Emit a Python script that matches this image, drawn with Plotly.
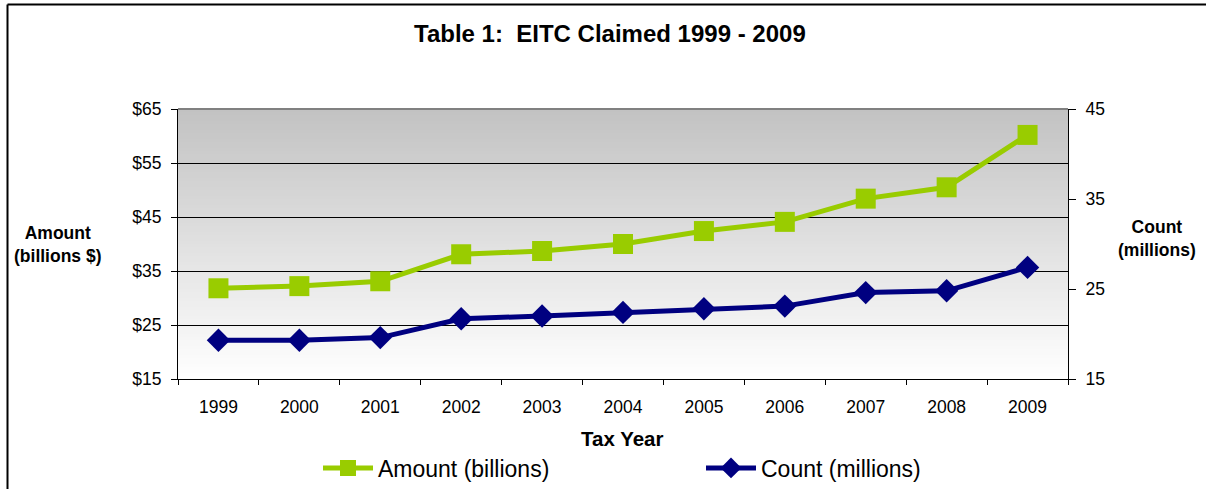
import plotly.graph_objects as go

years = ["1999", "2000", "2001", "2002", "2003", "2004", "2005", "2006", "2007", "2008", "2009"]
amount_billions = [31.8, 32.2, 33.1, 38.1, 38.7, 40.0, 42.4, 44.1, 48.4, 50.5, 60.2]
count_millions = [19.3, 19.3, 19.6, 21.7, 22.0, 22.4, 22.8, 23.1, 24.6, 24.8, 27.4]

FONT = "Arial, Liberation Sans, sans-serif"

W, H = 1206, 489
L, R, T, B = 178, 1068, 109, 379  # plot area in px


def px_x(px):
    return (px - L) / (R - L)


def px_y(py):
    return (B - py) / (B - T)


fig = go.Figure()

fig.add_trace(go.Scatter(
    x=years, y=amount_billions, name="Amount (billions)", mode="lines+markers",
    line=dict(color="#99cc00", width=5),
    marker=dict(symbol="square", size=20, color="#99cc00"),
    yaxis="y",
))
fig.add_trace(go.Scatter(
    x=years, y=count_millions, name="Count (millions)", mode="lines+markers",
    line=dict(color="#000080", width=5),
    marker=dict(symbol="diamond", size=18, color="#000080"),
    yaxis="y2",
))

# gradient background (grey top -> white bottom)
shapes = []
n = 90
for i in range(n):
    t0 = i / n
    t1 = (i + 1) / n
    tm = (t0 + t1) / 2  # 0 bottom, 1 top
    v = int(round(255 - (255 - 194) * tm))
    shapes.append(dict(type="rect", xref="paper", yref="paper", x0=0, x1=1, y0=t0, y1=t1,
                       fillcolor=f"rgb({v},{v},{v})", line=dict(width=0), layer="below"))
# top plot border
shapes.append(dict(type="line", xref="paper", yref="paper", x0=0, x1=1, y0=1, y1=1,
                   line=dict(color="#808080", width=2)))
# outer chart frame (top and left visible)
shapes.append(dict(type="line", xref="paper", yref="paper", x0=px_x(7.5), x1=px_x(1210), y0=px_y(4.5), y1=px_y(4.5),
                   line=dict(color="#000000", width=2)))
shapes.append(dict(type="line", xref="paper", yref="paper", x0=px_x(7.5), x1=px_x(7.5), y0=px_y(4.5), y1=px_y(495),
                   line=dict(color="#000000", width=2)))

annotations = [
    dict(text="<b>Table 1:\u00a0 EITC Claimed 1999 - 2009</b>", x=px_x(610), y=px_y(33), xref="paper", yref="paper",
         showarrow=False, font=dict(family=FONT, size=24, color="#000"), xanchor="center", yanchor="middle"),
    dict(text="<b>Amount<br>(billions $)</b>", x=px_x(58), y=px_y(244), xref="paper", yref="paper",
         showarrow=False, font=dict(family=FONT, size=17.5, color="#000"), xanchor="center", yanchor="middle"),
    dict(text="<b>Count<br>(millions)</b>", x=px_x(1157), y=px_y(238), xref="paper", yref="paper",
         showarrow=False, font=dict(family=FONT, size=17.5, color="#000"), xanchor="center", yanchor="middle"),
    dict(text="<b>Tax Year</b>", x=px_x(622), y=px_y(438), xref="paper", yref="paper",
         showarrow=False, font=dict(family=FONT, size=20.5, color="#000"), xanchor="center", yanchor="middle"),
]

TICKFONT = dict(family=FONT, size=17.5, color="#000")

fig.update_layout(
    width=W, height=H,
    margin=dict(l=L, r=W - R, t=T, b=H - B, pad=0, autoexpand=False),
    paper_bgcolor="white",
    plot_bgcolor="rgba(0,0,0,0)",
    font=dict(family=FONT, size=15, color="#000"),
    shapes=shapes,
    annotations=annotations,
    showlegend=True,
    legend=dict(orientation="h", x=px_x(318), y=px_y(468), xanchor="left", yanchor="middle",
                font=dict(family=FONT, size=23, color="#000"), bgcolor="rgba(0,0,0,0)",
                entrywidth=318, itemwidth=50, traceorder="normal"),
    xaxis=dict(type="category", range=[-0.5, 10.5], showgrid=False, showline=True,
               linecolor="#000", linewidth=1, ticks="outside", ticklen=5, tickcolor="#000",
               tickson="boundaries", tickfont=TICKFONT, ticklabelstandoff=12,
               zeroline=False, fixedrange=True),
    yaxis=dict(range=[15, 65], dtick=10, tick0=15, tickprefix="$", showgrid=True, gridcolor="#000",
               gridwidth=1, showline=True, linecolor="#000", linewidth=1, ticks="outside", ticklen=6,
               tickcolor="#000", tickfont=TICKFONT, zeroline=False,
               ticklabelstandoff=6),
    yaxis2=dict(range=[15, 45], dtick=10, tick0=15, overlaying="y", side="right", showgrid=False,
                showline=True, linecolor="#000", linewidth=1, ticks="outside", ticklen=7,
                tickcolor="#000", tickfont=TICKFONT, zeroline=False,
                ticklabelstandoff=6),
)

fig.write_html("out.html")
